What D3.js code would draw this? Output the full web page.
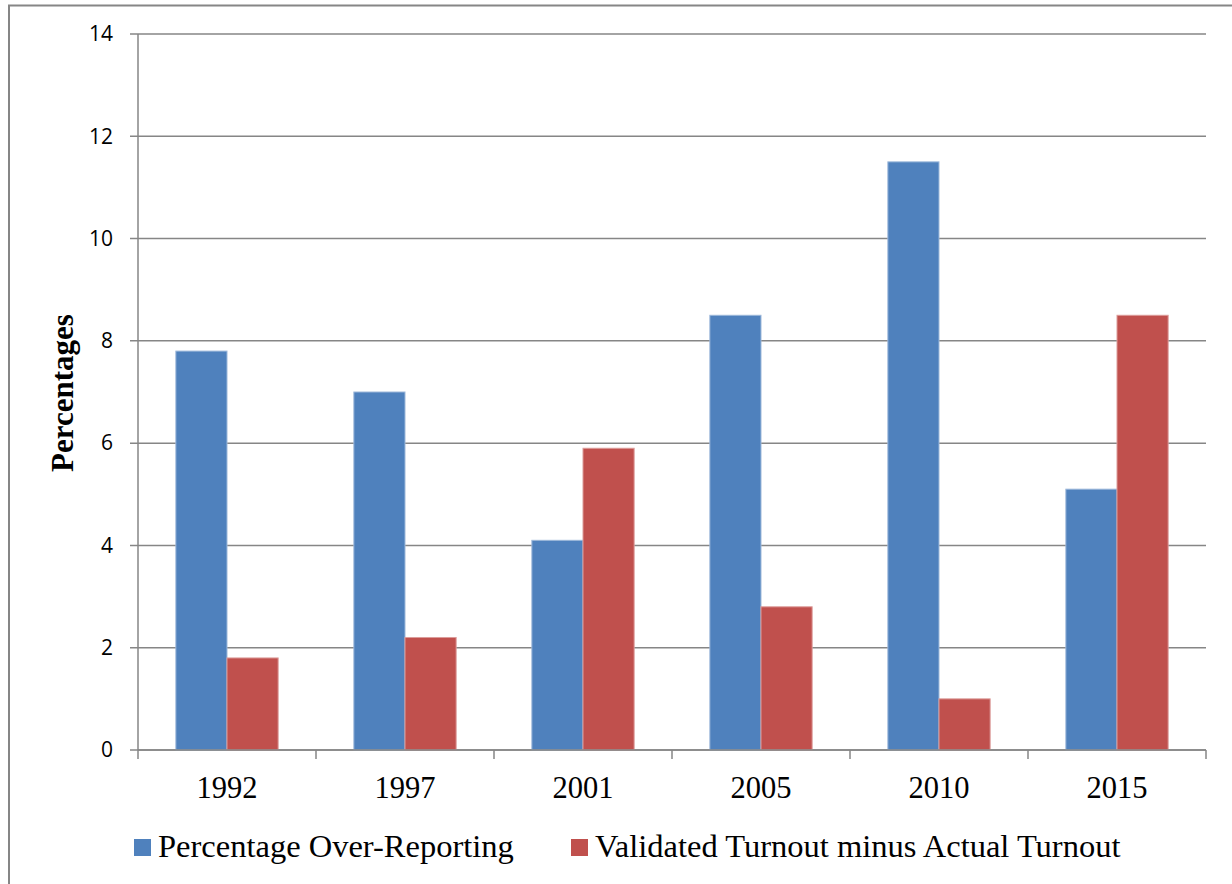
<!DOCTYPE html>
<html><head><meta charset="utf-8">
<script src="https://cdn.jsdelivr.net/npm/d3@7"></script>
<style>body{margin:0;background:#fff}svg{display:block}</style>
</head><body>
<svg id="c" width="1232" height="884"></svg>
<script>
const categories = ["1992","1997","2001","2005","2010","2015"];
const seriesNames = ["Percentage Over-Reporting","Validated Turnout minus Actual Turnout"];
const overReporting = [7.8, 7.0, 4.1, 8.5, 11.5, 5.1];
const validatedMinusActual = [1.8, 2.2, 5.9, 2.8, 1.0, 8.5];
const yTicks = [0,2,4,6,8,10,12,14];
const colors = ["#4F81BD","#C0504D"];

const svg = d3.select("#c");
const L = 138, R = 1206, T = 34, B = 750;
const grey = "#868686";

svg.append("rect").attr("x",9).attr("y",5.5).attr("width",1240).attr("height",900)
  .attr("fill","#fff").attr("stroke",grey).attr("stroke-width",2);

const x = d3.scaleBand().domain(categories).range([L,R]).paddingInner(0).paddingOuter(0);
const y = d3.scaleLinear().domain([0,14]).range([B,T]);
const inner = d3.scaleBand().domain([0,1]).range([0, x.bandwidth()]).paddingInner(0).paddingOuter(0.74);

// gridlines
svg.append("g").selectAll("line").data(yTicks).join("line")
  .attr("x1",L-8).attr("x2",R).attr("y1",d=>y(d)).attr("y2",d=>y(d))
  .attr("stroke",grey).attr("stroke-width",1.5);

// y labels
svg.append("g").selectAll("text").data(yTicks).join("text")
  .attr("x",113).attr("y",d=>y(d)).attr("dy","0.35em").attr("text-anchor","end")
  .attr("font-family","'Open Sans', 'Liberation Sans', sans-serif").attr("font-size",21)
  .attr("fill","#000").text(d=>d);

// bars
const data = [overReporting, validatedMinusActual];
data.forEach((vals,si)=>{
  svg.append("g").selectAll("rect").data(vals).join("rect")
    .attr("x",(d,i)=>x(categories[i])+inner(si))
    .attr("y",d=>y(d))
    .attr("width",inner.bandwidth())
    .attr("height",d=>B-y(d))
    .attr("fill",colors[si])
    .attr("stroke", si===0 ? "#9db8da" : "#dc9c9a").attr("stroke-width",1);
});

// y axis line
svg.append("line").attr("x1",L).attr("x2",L).attr("y1",T).attr("y2",B)
  .attr("stroke",grey).attr("stroke-width",1.5);
// x axis line
svg.append("line").attr("x1",L).attr("x2",R).attr("y1",B).attr("y2",B)
  .attr("stroke",grey).attr("stroke-width",1.5);
// x ticks at band boundaries
const bounds = categories.map(c=>x(c)).concat([R]);
svg.append("g").selectAll("line").data(bounds).join("line")
  .attr("x1",d=>d).attr("x2",d=>d).attr("y1",B).attr("y2",B+9)
  .attr("stroke",grey).attr("stroke-width",1.5);

// x labels
svg.append("g").selectAll("text").data(categories).join("text")
  .attr("x",d=>x(d)+x.bandwidth()/2).attr("y",798).attr("text-anchor","middle")
  .attr("font-family","'Liberation Serif', 'Times New Roman', serif").attr("font-size",30.5)
  .attr("fill","#000").text(d=>d);

// y title
svg.append("text").attr("transform","translate(73,393) rotate(-90)")
  .attr("text-anchor","middle").attr("font-family","'Liberation Serif', serif")
  .attr("font-weight","bold").attr("font-size",31).attr("fill","#000").text("Percentages");

// legend
const legX = [134, 571];
seriesNames.forEach((n,i)=>{
  svg.append("rect").attr("x",legX[i]).attr("y",839).attr("width",17).attr("height",17).attr("fill",colors[i]);
  svg.append("text").attr("x",legX[i]+24).attr("y",857)
    .attr("font-family","'Liberation Serif', serif").attr("font-size",32.5).attr("fill","#000").text(n);
});
</script>
</body></html>
